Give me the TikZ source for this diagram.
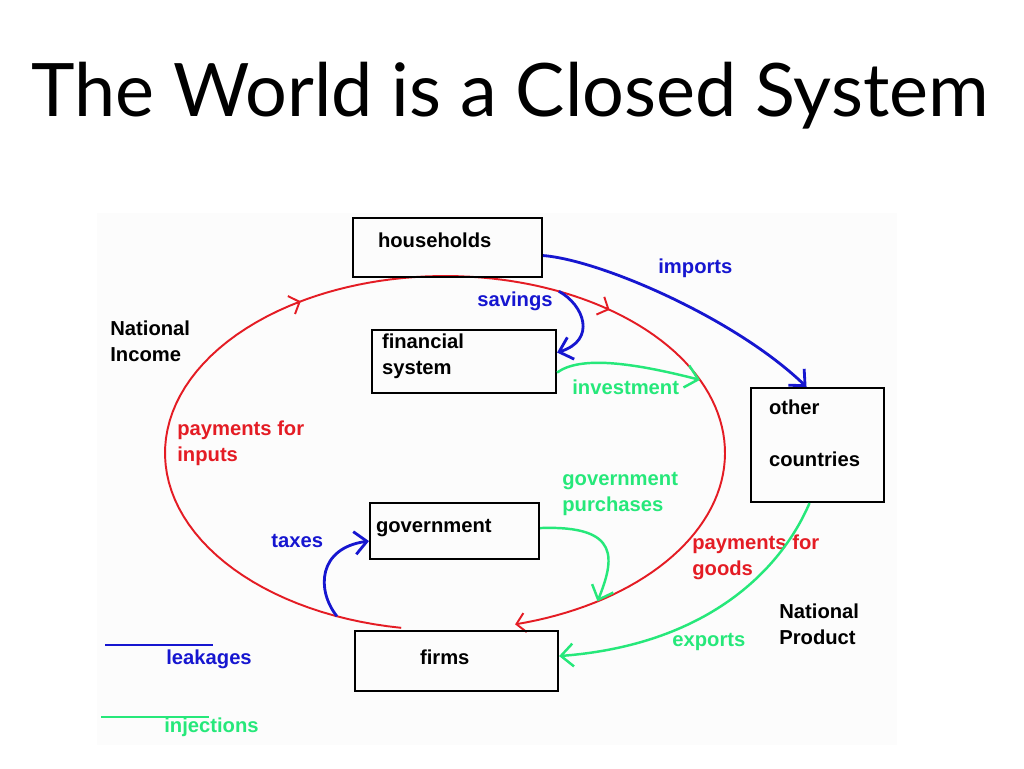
\documentclass[tikz,border=0pt]{standalone}
\usepackage{fontspec}
\usepackage{xcolor}
\usepackage{tikz}
\usetikzlibrary{arrows.meta, calc, backgrounds}

\newfontfamily\titlesans{Lato}
\newfontfamily\diagsans{Liberation Sans}
\newcommand{\diagfont}{\diagsans\bfseries\fontsize{11.5}{14.7}\selectfont}

\definecolor{flowred}{RGB}{228,28,36}
\definecolor{leakblue}{RGB}{22,22,208}
\definecolor{injgreen}{RGB}{38,232,122}

\tikzset{
  sector/.style={draw, line width=1.2pt, anchor=north west, font=\diagfont, align=left, inner ysep=0pt},
  caption/.style={font=\diagfont, align=left, anchor=west, inner sep=0pt},
  flow/.style={flowred, line width=1.1pt},
  flowtip/.style={flow, -{Straight Barb[length=5pt, width=11pt]}},
  leak/.style={leakblue, line width=1.6pt, -{Straight Barb[length=7pt, width=13pt]}},
  inject/.style={injgreen, line width=1.4pt, -{Straight Barb[length=7pt, width=13pt]}},
}

\begin{document}
\begin{tikzpicture}[x=0.02cm, y=-0.02cm]
\useasboundingbox (0,0) rectangle (1024,768);
\pgfmathsetmacro{\ecx}{445}
\pgfmathsetmacro{\ecy}{453}
\pgfmathsetmacro{\erx}{280}
\pgfmathsetmacro{\ery}{177}

% Title
\node (title) [anchor=base, inner sep=0pt, font=\titlesans\fontsize{42}{48}\selectfont] at (510,116) {The World is a Closed System};

% Sectors
\node[sector, inner xsep=0.5cm, text width=2.78cm, minimum height=1.18cm, text depth=8pt] (hh) at (352,217) {households};
\node[sector, inner xsep=0.2cm, text width=3.28cm, minimum height=1.26cm, text depth=22.7pt] (fs) at (371,329) {financial\\system};
\node[sector, inner xsep=0.36cm, text width=1.94cm, minimum height=2.28cm, text depth=43.1pt] (oc) at (750,387) {other\\[14.8pt]countries};
\node[sector, inner xsep=0.12cm, text width=3.14cm, minimum height=1.12cm, text depth=5.8pt] (gov) at (369,502) {government};
\node[sector, inner xsep=0.1cm, text width=3.86cm, minimum height=1.2cm, text depth=4.6pt] (fi) at (354,630) {\hspace*{1.2cm}firms};

% Captions
\node[caption] (natinc) at (110,341) {National\\Income};
\node[caption, flowred] (payin) at (177,443) {payments for\\inputs};
\node[caption, leakblue] (sav) at (477,301) {savings};
\node[caption, leakblue] (imp) at (658,268) {imports};
\node[caption, injgreen] (inv) at (572,387) {investment};
\node[caption, injgreen] (govpur) at (562,494) {government\\purchases};
\node[caption, leakblue] (tax) at (271,541) {taxes};
\node[caption, flowred] (paygood) at (692,557) {payments for\\goods};
\node[caption] (natprod) at (779,624) {National\\Product};
\node[caption, injgreen] (exp) at (672,642) {exports};
\node[caption, leakblue] (leakkey) at (166,659) {leakages};
\node[caption, injgreen] (injkey) at (164,727) {injections};

% Legend lines
\draw[leakblue, line width=1.6pt] (105,645) -- (213,645);
\draw[injgreen, line width=1.4pt] (101,717) -- (209,717);

% Points on the circular flow
\coordinate (sv0) at ({\ecx+\erx*cos(-66)},{\ecy+\ery*sin(-66)});
\coordinate (inv1) at ({\ecx+\erx*cos(-24.4)},{\ecy+\ery*sin(-24.4)});
\coordinate (gp1) at ({\ecx+\erx*cos(57)},{\ecy+\ery*sin(57)});
\coordinate (tx0) at ({\ecx+\erx*cos(112.7)},{\ecy+\ery*sin(112.7)});

% Circular flow
\begin{scope}[on background layer]
  \fill[black!1] (97,213) rectangle (897,745);
  \draw[flowtip] plot[domain=99:239, samples=50] ({\ecx+\erx*cos(\x)},{\ecy+\ery*sin(\x)});
  \draw[flow] plot[domain=238:282, samples=20] ({\ecx+\erx*cos(\x)},{\ecy+\ery*sin(\x)});
  \draw[flowtip] plot[domain=-78:-54, samples=15] ({\ecx+\erx*cos(\x)},{\ecy+\ery*sin(\x)});
  \draw[flowtip] plot[domain=-55:75.5, samples=60] ({\ecx+\erx*cos(\x)},{\ecy+\ery*sin(\x)});
\end{scope}

% Leakages and injections
\draw[leak] ($(hh.east)+(0,8)$) .. controls (600,260) and (735,318) .. ($(oc.north)+(-11,0)$);
\draw[leak] (sv0) .. controls (584,305) and (597,340) .. ($(fs.east)+(0,-9)$);
\draw[inject] ($(fs.east)+(0,11)$) .. controls (580,356) and (630,362) .. (inv1);
\draw[inject] ($(gov.east)+(0,-3)$) .. controls (622,525) and (614,560) .. (gp1);
\draw[leak] (tx0) .. controls (316,590) and (318,548) .. ($(gov.west)+(0,10)$);
\draw[inject] ($(oc.south)+(-8,0)$) .. controls (780,572) and (705,645) .. ($(fi.east)+(0,-5)$);

\end{tikzpicture}
\end{document}
